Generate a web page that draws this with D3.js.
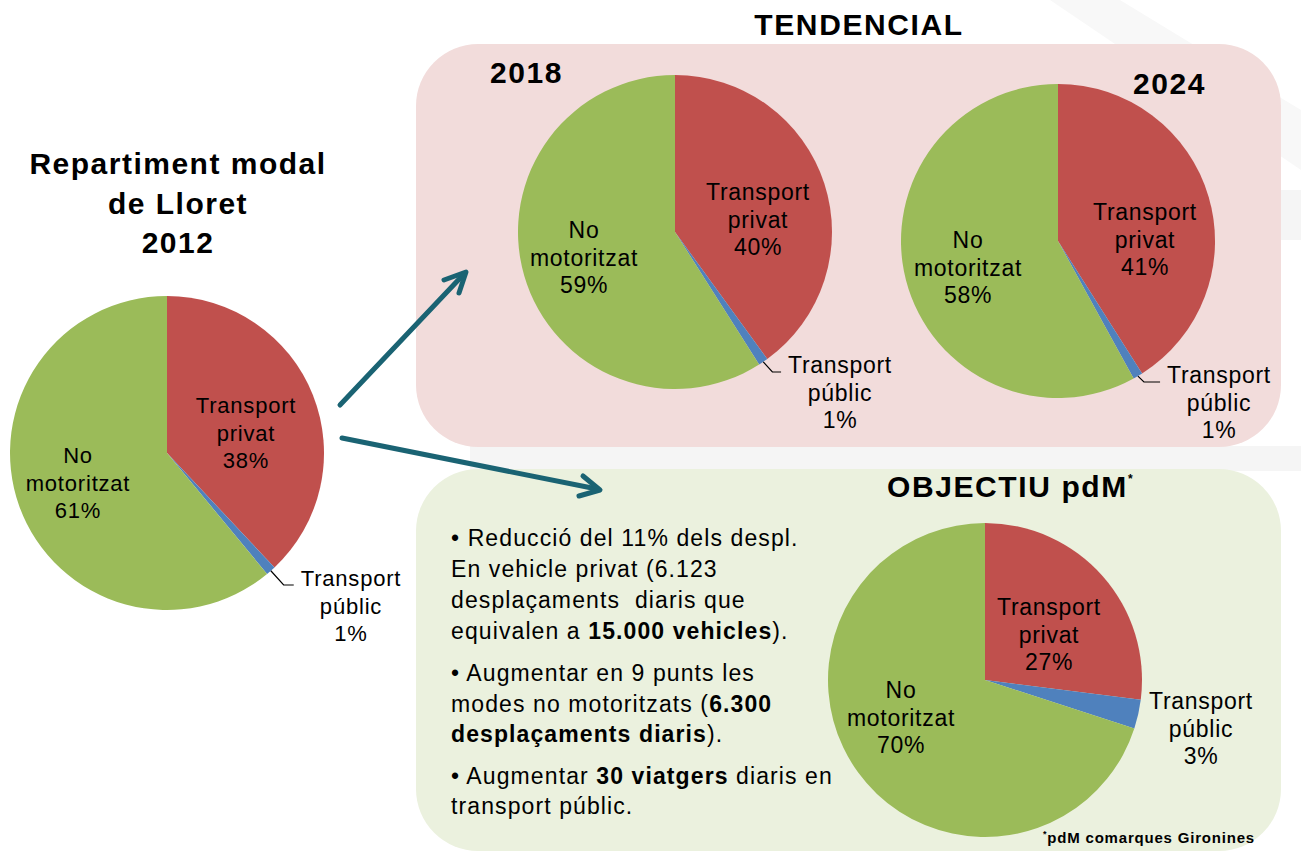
<!DOCTYPE html>
<html>
<head>
<meta charset="utf-8">
<script src="https://cdn.jsdelivr.net/npm/d3@7"></script>
<style>
  html, body { margin: 0; padding: 0; background: #ffffff; }
  svg { display: block; font-family: "Liberation Sans", Arial, Helvetica, sans-serif; }
  svg text { white-space: pre; }
</style>
</head>
<body>
<svg id="chart" width="1301" height="854"></svg>
<script>
// Modal split categories (slice order, clockwise from 12 o'clock)
const categories = ["Transport privat", "Transport públic", "No motoritzat"];
const categoryColors = ["#c0504d", "#4f81bd", "#9bbb59"];

// Shares (%) per scenario
const share2012 = [38, 1, 61];
const share2018 = [40, 1, 59];
const share2024 = [41, 1, 58];
const shareObjectiu = [27, 3, 70];

// Headings
const mainTitle = ["Repartiment modal", "de Lloret", "2012"];
const trendTitle = "TENDENCIAL";
const yearLabels = ["2018", "2024"];
const goalTitle = "OBJECTIU pdM";
const footnote = "pdM comarques Gironines";

// Target measures text (segments flagged bold)
const goalLines = [
  [["• Reducció del 11% dels despl.", false]],
  [["En vehicle privat (6.123", false]],
  [["desplaçaments  diaris que", false]],
  [["equivalen a ", false], ["15.000 vehicles", true], [").", false]],
  [["• Augmentar en 9 punts les", false]],
  [["modes no motoritzats (", false], ["6.300", true]],
  [["desplaçaments diaris", true], [").", false]],
  [["• Augmentar ", false], ["30 viatgers", true], [" diaris en", false]],
  [["transport públic.", false]]
];

const svg = d3.select("#chart");

// faint background watermark shapes
const wm = svg.append("g").attr("fill", "#f5f5f5");
wm.append("rect").attr("x", 470).attr("y", 446).attr("width", 831).attr("height", 25);
wm.append("path").attr("d", "M1050,0 L1120,0 L1301,110 L1301,170 Z").attr("fill", "#f8f8f8");
wm.append("rect").attr("x", 1281).attr("y", 190).attr("width", 20).attr("height", 50);

// scenario panels
svg.append("rect").attr("x", 416).attr("y", 44).attr("width", 865).attr("height", 403)
  .attr("rx", 62).attr("ry", 62).attr("fill", "#f2dcdb");
svg.append("rect").attr("x", 416).attr("y", 469).attr("width", 865).attr("height", 382)
  .attr("rx", 62).attr("ry", 62).attr("fill", "#ebf1de");

// arrows
const arrowColor = "#1a6373";
const arrows = svg.append("g").attr("stroke", arrowColor).attr("stroke-width", 5)
  .attr("fill", "none").attr("stroke-linecap", "round").attr("stroke-linejoin", "round");
arrows.append("path").attr("d", "M340,405 L463,275");
arrows.append("path").attr("d", "M444,280 L466,272 L459,293");
arrows.append("path").attr("d", "M342,438 L597,489");
arrows.append("path").attr("d", "M583,476 L600,490 L579,496");

// titles
const title = svg.append("text").attr("text-anchor", "middle").attr("font-weight", "bold")
  .attr("font-size", 30).attr("letter-spacing", 1.5).attr("fill", "#000");
mainTitle.forEach((t, i) => {
  title.append("tspan").attr("x", 178).attr("y", 174 + i * 39.5).text(t);
});

const bigBold = (x, y, t, anchor) => svg.append("text")
  .attr("x", x).attr("y", y).attr("text-anchor", anchor || "start")
  .attr("font-weight", "bold").attr("font-size", 30).attr("letter-spacing", 1.6)
  .attr("fill", "#000").text(t);

bigBold(859, 35, trendTitle, "middle");
bigBold(490, 83, yearLabels[0]);
bigBold(1133, 94, yearLabels[1]);
const gt = bigBold(887, 497, goalTitle);
gt.append("tspan").attr("font-size", 12).attr("dy", -14).attr("letter-spacing", 0).text("*");

// pies
const pie = d3.pie().sort(null).value(d => d.value);
const R = 157;
const arc = d3.arc().innerRadius(0).outerRadius(R);
const rim = d3.arc().innerRadius(R).outerRadius(R);

const charts = [
  { values: share2012, cx: 167, cy: 453, fs: 22, ls: 0.8,
    labels: [[246, 413], [351, 586], [78, 463]], leader: true },
  { values: share2018, cx: 675, cy: 232, fs: 23, ls: 0.7,
    labels: [[758, 200], [840, 373], [584, 238]], leader: true },
  { values: share2024, cx: 1058, cy: 241, fs: 23, ls: 0.7,
    labels: [[1145, 220], [1219, 383], [968, 248]], leader: true },
  { values: shareObjectiu, cx: 985, cy: 680, fs: 23, ls: 0.7,
    labels: [[1049, 615], [1201, 709], [901, 698]], leader: false }
];

charts.forEach(c => {
  const data = categories.map((name, i) => ({ name, value: c.values[i], color: categoryColors[i] }));
  const arcs = pie(data);
  const g = svg.append("g").attr("transform", `translate(${c.cx},${c.cy})`);
  g.selectAll("path.slice").data(arcs).join("path")
    .attr("class", "slice")
    .attr("d", arc)
    .attr("fill", d => d.data.color);

  arcs.forEach((a, i) => {
    const [lx, ly] = c.labels[i];
    const words = a.data.name.split(" ");
    const lines = [words[0], words.slice(1).join(" "), a.data.value + "%"];
    const txt = svg.append("text").attr("text-anchor", "middle")
      .attr("font-size", c.fs).attr("letter-spacing", c.ls).attr("fill", "#000");
    lines.forEach((l, k) => {
      txt.append("tspan").attr("x", lx).attr("y", ly + k * 27.5).text(l);
    });
    if (c.leader && i === 1) {
      // leader line from the slice rim to the label
      const [sx, sy] = rim.centroid(a);
      const px = c.cx + sx, py = c.cy + sy;
      const w = txt.select("tspan").node().getComputedTextLength();
      const endX = lx - w / 2 - 7;
      const yl = ly - 1;
      const ex = Math.min(px + Math.max(6, (yl - py) * 0.9), endX - 4);
      svg.append("path")
        .attr("d", `M${px},${py} L${ex},${yl} L${endX},${yl}`)
        .attr("fill", "none").attr("stroke", "#000").attr("stroke-width", 1.2);
    }
  });
});

// target measures
const body = svg.append("g").attr("font-size", 23).attr("letter-spacing", 1.1).attr("fill", "#000");
const baselines = [546, 577, 608, 639, 681, 712, 742, 784, 814];
goalLines.forEach((segs, i) => {
  const t = body.append("text").attr("x", 451).attr("y", baselines[i]);
  segs.forEach(([s, b]) => {
    t.append("tspan").attr("font-weight", b ? "bold" : "normal").text(s);
  });
});

// footnote
const fn = svg.append("text").attr("x", 1043).attr("y", 843)
  .attr("font-size", 15).attr("font-weight", "bold").attr("letter-spacing", 0.8).attr("fill", "#000");
fn.append("tspan").attr("font-size", 9).attr("dy", -6).text("*");
fn.append("tspan").attr("dy", 6).text(footnote);
</script>
</body>
</html>
